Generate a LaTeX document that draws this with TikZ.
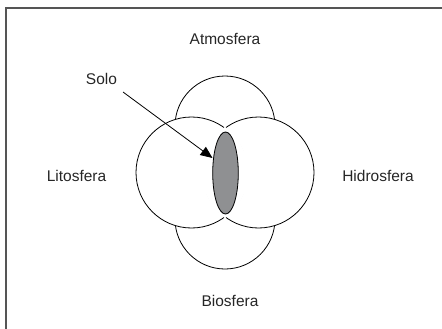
\documentclass[tikz,border=0pt]{standalone}
\usepackage{fontspec}
\setmainfont{Liberation Sans}
\usetikzlibrary{shapes.geometric,arrows.meta}
\definecolor{soilgray}{HTML}{8F9092}
\definecolor{framegray}{HTML}{555555}
\begin{document}
\begin{tikzpicture}[x=1pt,y=-1pt,
  sphere/.style={circle,draw=black,fill=white,line width=0.8pt,inner sep=0pt},
  lbl/.style={font=\fontsize{15.5}{18}\selectfont,inner sep=0pt,text=black!85},
  soil/.style={ellipse,draw=black,fill=soilgray,line width=0.8pt,inner sep=0pt,minimum width=25.6pt,minimum height=82pt},
  pointer/.style={line width=0.8pt,-{Triangle[length=12pt,width=10pt]}}]
\useasboundingbox (0,0) rectangle (442,329);
\draw[framegray,line width=1.3pt] (6,329) -- (6,8) -- (442,8);
% top and bottom spheres
\node[sphere,minimum size=100pt] (atm) at (225,126) {};
\node[sphere,minimum size=100pt] (bio) at (225,219) {};
% side spheres
\fill[white] (191.5,172.5) circle (55.5) (258.5,172.5) circle (55.5);
\node[circle,draw=black,line width=0.8pt,inner sep=0pt,minimum size=111pt] (lit) at (191.5,172.5) {};
\node[circle,draw=black,line width=0.8pt,inner sep=0pt,minimum size=111pt] (hid) at (258.5,172.5) {};
% hide the inner arcs of the overlap
\begin{scope}
\clip (191.5,172.5) circle (56.7);
\fill[white] (258.5,172.5) circle (56.7);
\end{scope}
% soil
\node[soil] (solo) at (225.5,173) {};
% labels
\node[lbl] (tatm) at (225,39) {Atmosfera};
\node[lbl] (tlit) at (76.5,176) {Litosfera};
\node[lbl] (thid) at (378,176) {Hidrosfera};
\node[lbl] (tbio) at (230,301) {Biosfera};
\node[lbl] (tsolo) at (101.5,79) {Solo};
\coordinate (tail) at (123,92);
\coordinate (tip) at (212.5,158);
\draw[pointer] (tail) -- (tip);
\end{tikzpicture}
\end{document}
